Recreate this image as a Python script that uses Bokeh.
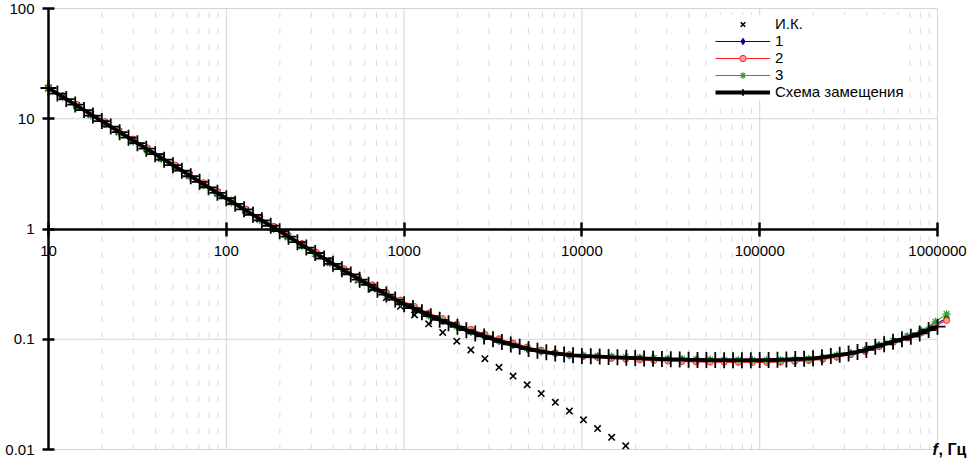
import math
from bokeh.plotting import figure
from bokeh.models import FixedTicker, Legend, LegendItem, Label, LogAxis
from bokeh.embed import file_html
from bokeh.resources import INLINE

# ---------------- data ----------------
X_TICKS = [10, 100, 1000, 10000, 100000, 1000000]
X_LABELS = ["10", "100", "1000", "10000", "100000", "1000000"]
Y_TICKS = [0.01, 0.1, 1, 10, 100]
Y_LABELS = ["0.01", "0.1", "1", "10", "100"]

LABEL_IK = "И.К."
LABEL_1 = "1"
LABEL_2 = "2"
LABEL_3 = "3"
LABEL_MODEL = "Схема замещения"
X_TITLE_F = "f"
X_TITLE_UNIT = ", Гц"

# И.К. (ideal capacitor)
F_IK = [10, 12, 14.4, 17.28, 20.74, 24.88, 29.86, 35.83, 43.0, 51.6, 61.92, 74.3,
        89.16, 107.0, 128.4, 154.1, 184.9, 221.9, 266.2, 319.5, 383.4, 460.1, 552.1,
        662.5, 795.0, 954.0, 1145, 1374, 1649, 1978, 2374, 2849, 3418, 4102, 4922,
        5907, 7088, 8506, 10207, 12248, 14698, 17637]
Z_IK = [19.0, 15.83, 13.19, 11.0, 9.16, 7.64, 6.36, 5.30, 4.42, 3.68, 3.07, 2.56,
        2.13, 1.78, 1.48, 1.233, 1.028, 0.856, 0.714, 0.595, 0.496, 0.413, 0.344,
        0.287, 0.239, 0.199, 0.166, 0.138, 0.1153, 0.096, 0.080, 0.0667, 0.0556,
        0.0463, 0.0386, 0.0322, 0.0268, 0.0223, 0.0186, 0.0155, 0.0129, 0.0108]

# measured series 1, 2, 3
F_MEAS = [10, 12, 14.4, 17.28, 20.74, 24.88, 29.86, 35.83, 43.0, 51.6, 61.92, 74.3,
          89.16, 107.0, 128.4, 154.1, 184.9, 221.9, 266.2, 319.5, 383.4, 460.1, 552.1,
          662.5, 795.0, 954.0, 1145, 1374, 1649, 1978, 2374, 2849, 3418, 4102, 4922,
          5907, 7088, 8506, 10207, 12248, 14698, 17637, 21165, 25398, 30477, 36573,
          43888, 52665, 63198, 75838, 91006, 109207, 131048, 157258, 188709, 226451,
          271741, 326090, 391308, 469569, 563483, 676180, 811416, 973699, 1125000]
Z_1 = [19.1, 15.9, 13.2, 11.0, 9.2, 7.62, 6.38, 5.30, 4.41, 3.69, 3.07, 2.55,
       2.13, 1.78, 1.48, 1.235, 1.03, 0.861, 0.719, 0.601, 0.503, 0.423, 0.356,
       0.302, 0.257, 0.219, 0.191, 0.167, 0.148, 0.132, 0.118, 0.107, 0.097,
       0.0895, 0.0825, 0.0778, 0.0742, 0.0718, 0.0704, 0.0693, 0.0683, 0.0674,
       0.0665, 0.0657, 0.0650, 0.0644, 0.0638, 0.0634, 0.0631, 0.0628, 0.0627,
       0.0627, 0.0630, 0.0637, 0.0648, 0.0668, 0.0700, 0.0740, 0.0792, 0.0872,
       0.0955, 0.1048, 0.1170, 0.1370, 0.155]
Z_2 = [19.3, 16.1, 13.5, 11.3, 9.40, 7.85, 6.55, 5.46, 4.55, 3.80, 3.16, 2.63,
       2.19, 1.83, 1.52, 1.268, 1.058, 0.885, 0.738, 0.618, 0.517, 0.436, 0.367,
       0.312, 0.266, 0.227, 0.198, 0.173, 0.154, 0.137, 0.123, 0.111, 0.101,
       0.0925, 0.0852, 0.0798, 0.0755, 0.0722, 0.0702, 0.0685, 0.0672, 0.0660,
       0.0650, 0.0641, 0.0634, 0.0628, 0.0623, 0.0620, 0.0618, 0.0617, 0.0617,
       0.0618, 0.0622, 0.0629, 0.0640, 0.0658, 0.0688, 0.0725, 0.0775, 0.0855,
       0.0935, 0.1025, 0.1140, 0.1330, 0.148]
Z_3 = [18.8, 15.6, 12.9, 10.7, 8.95, 7.45, 6.20, 5.16, 4.30, 3.58, 2.99, 2.49,
       2.07, 1.73, 1.44, 1.200, 1.001, 0.838, 0.699, 0.585, 0.490, 0.413, 0.348,
       0.296, 0.252, 0.215, 0.188, 0.164, 0.146, 0.130, 0.117, 0.106, 0.097,
       0.0893, 0.0828, 0.0782, 0.0748, 0.0724, 0.0712, 0.0704, 0.0697, 0.0690,
       0.0683, 0.0676, 0.0670, 0.0664, 0.0660, 0.0656, 0.0653, 0.0650, 0.0648,
       0.0647, 0.0649, 0.0655, 0.0665, 0.0684, 0.0715, 0.0752, 0.0803, 0.0885,
       0.0968, 0.1065, 0.1195, 0.1440, 0.169]

# equivalent circuit model (Схема замещения)
F_MODEL = [10, 11.22, 12.59, 14.13, 15.85, 17.78, 19.95, 22.39, 25.12, 28.18,
           31.62, 35.48, 39.81, 44.67, 50.12, 56.23, 63.10, 70.79, 79.43, 89.13,
           100, 112.2, 125.9, 141.3, 158.5, 177.8, 199.5, 223.9, 251.2, 281.8,
           316.2, 354.8, 398.1, 446.7, 501.2, 562.3, 631.0, 707.9, 794.3, 891.3,
           1000, 1122, 1259, 1413, 1585, 1778, 1995, 2239, 2512, 2818,
           3162, 3548, 3981, 4467, 5012, 5623, 6310, 7079, 7943, 8913,
           10000, 11220, 12590, 14130, 15850, 17780, 19950, 22390, 25120, 28180,
           31620, 35480, 39810, 44670, 50120, 56230, 63100, 70790, 79430, 89130,
           100000, 112200, 125900, 141300, 158500, 177800, 199500, 223900, 251200, 281800,
           316200, 354800, 398100, 446700, 501200, 562300, 631000, 707900, 794300, 891300,
           1000000]
Z_MODEL = [19.0, 16.93, 15.09, 13.45, 11.99, 10.68, 9.52, 8.49, 7.56, 6.74,
           6.01, 5.35, 4.77, 4.25, 3.79, 3.38, 3.01, 2.68, 2.39, 2.13,
           1.90, 1.693, 1.509, 1.345, 1.199, 1.070, 0.955, 0.852, 0.759, 0.678,
           0.606, 0.540, 0.483, 0.432, 0.387, 0.347, 0.312, 0.281, 0.254, 0.229,
           0.208, 0.1917, 0.1757, 0.1618, 0.1499, 0.1397, 0.1296, 0.1209, 0.1130, 0.1061,
           0.1001, 0.0946, 0.0897, 0.0853, 0.0814, 0.0786, 0.0762, 0.0744, 0.0728, 0.0715,
           0.0706, 0.0701, 0.0697, 0.0689, 0.0686, 0.0679, 0.0676, 0.0670, 0.0665, 0.0662,
           0.0658, 0.0656, 0.0652, 0.0650, 0.0648, 0.0647, 0.0646, 0.0646, 0.0646, 0.0646,
           0.0647, 0.0649, 0.0652, 0.0656, 0.0661, 0.0666, 0.0672, 0.0686, 0.0705, 0.0722,
           0.0742, 0.0768, 0.0800, 0.0856, 0.0900, 0.0950, 0.1000, 0.1055, 0.1130, 0.1210,
           0.1300]

# ---------------- figure ----------------
FONT = "Liberation Sans"
W, H = 973, 460
# screen placement of the data box (x: 10 -> 48px, 1e6 -> 937px; y: 100 -> 8px, 0.01 -> 449px)
XL, XR, YT, YB = 48.0, 937.0, 8.0, 449.0
dec_x = (XR - XL) / (math.log10(X_TICKS[-1]) - math.log10(X_TICKS[0]))
dec_y = (YB - YT) / (math.log10(Y_TICKS[-1]) - math.log10(Y_TICKS[0]))
x_start = 10 ** (math.log10(X_TICKS[0]) - XL / dec_x)
x_end = 10 ** (math.log10(X_TICKS[-1]) + (W - XR) / dec_x)
y_end = 10 ** (math.log10(Y_TICKS[-1]) + YT / dec_y)
y_start = 10 ** (math.log10(Y_TICKS[0]) - (H - YB) / dec_y)

p = figure(width=W, height=H, x_axis_type="log", y_axis_type="log",
           x_axis_location=None, y_axis_location=None,
           x_range=(x_start, x_end), y_range=(y_start, y_end),
           output_backend="svg", toolbar_location=None,
           min_border_left=0, min_border_right=0, min_border_top=0, min_border_bottom=0)
p.outline_line_color = None
p.background_fill_color = "white"
p.grid.visible = False

# grid lines restricted to the data box
x_minor = [m * t for t in X_TICKS[:-1] for m in range(2, 10)]
GRID = "#d4d4d4"
p.segment(x0=x_minor, x1=x_minor, y0=[Y_TICKS[0]] * len(x_minor), y1=[Y_TICKS[-1]] * len(x_minor),
          line_color="#d6d6d6", line_width=1, line_dash="5 11")
p.segment(x0=X_TICKS, x1=X_TICKS, y0=[Y_TICKS[0]] * len(X_TICKS), y1=[Y_TICKS[-1]] * len(X_TICKS),
          line_color=GRID, line_width=1)
p.segment(x0=[X_TICKS[0]] * len(Y_TICKS), x1=[X_TICKS[-1]] * len(Y_TICKS), y0=Y_TICKS, y1=Y_TICKS,
          line_color=GRID, line_width=1)

# ---------------- glyphs ----------------
r_ik = p.scatter(F_IK, Z_IK, marker="x", size=9, line_color="black", line_width=1.6)

C1, C2, C3 = "#0000a0", "#ff2020", "#2f9f2f"
l1 = p.line(F_MEAS, Z_1, line_color=C1, line_width=1.2)
s1 = p.scatter(F_MEAS, Z_1, marker="diamond", size=8, line_color=C1, fill_color=C1)
l2 = p.line(F_MEAS, Z_2, line_color=C2, line_width=1.2)
s2 = p.scatter(F_MEAS, Z_2, marker="circle", size=6, line_color=C2, fill_color="#ff9c9c")
l3 = p.line(F_MEAS, Z_3, line_color=C3, line_width=1.2)
s3 = p.scatter(F_MEAS, Z_3, marker="asterisk", size=8, line_color=C3, line_width=1.2)

lm = p.line(F_MODEL, Z_MODEL, line_color="black", line_width=3.8)
sm = p.scatter(F_MODEL, Z_MODEL, marker="cross", size=16,
               line_color="black", line_width=1.8)

# ---------------- axes crossing at (10, 1) ----------------
xa = LogAxis(fixed_location=1, bounds=(X_TICKS[0], X_TICKS[-1]),
             ticker=FixedTicker(ticks=X_TICKS, minor_ticks=[]),
             major_label_overrides={t: s for t, s in zip(X_TICKS, X_LABELS)})
ya = LogAxis(fixed_location=10, bounds=(Y_TICKS[0], Y_TICKS[-1]),
             ticker=FixedTicker(ticks=Y_TICKS, minor_ticks=[]),
             major_label_overrides={t: s for t, s in zip(Y_TICKS, Y_LABELS)})
for ax in (xa, ya):
    ax.axis_line_width = 2.5
    ax.axis_line_color = "black"
    ax.major_tick_line_width = 2.5
    ax.major_tick_line_color = "black"
    ax.minor_tick_line_color = None
    ax.major_label_text_font = FONT
    ax.major_label_text_font_size = "15px"
    ax.major_label_text_color = "black"
xa.major_tick_in = 7
xa.major_tick_out = 7
xa.major_label_standoff = 10
ya.major_tick_in = 6
ya.major_tick_out = 6
ya.major_label_standoff = 8
p.add_layout(xa, "below")
p.add_layout(ya, "left")

# ---------------- legend ----------------
legend = Legend(items=[
    LegendItem(label=LABEL_IK, renderers=[r_ik]),
    LegendItem(label=LABEL_1, renderers=[l1, s1]),
    LegendItem(label=LABEL_2, renderers=[l2, s2]),
    LegendItem(label=LABEL_3, renderers=[l3, s3]),
    LegendItem(label=LABEL_MODEL, renderers=[lm, sm]),
], location=(715, 360))
legend.glyph_width = 55
legend.glyph_height = 16
legend.label_height = 16
legend.label_standoff = 5
legend.spacing = 0
legend.padding = 2
legend.margin = 0
legend.border_line_color = None
legend.background_fill_color = "white"
legend.background_fill_alpha = 1
legend.label_text_font = FONT
legend.label_text_font_size = "15px"
legend.label_text_line_height = 1.0
legend.label_text_color = "black"
p.add_layout(legend)

# ---------------- axis title ----------------
p.add_layout(Label(x=X_TICKS[-1], y=Y_TICKS[0], x_offset=-5, text=X_TITLE_F,
                   text_font=FONT, text_font_size="16px", text_font_style="bold italic",
                   text_baseline="middle", text_align="left", text_color="black"))
p.add_layout(Label(x=X_TICKS[-1], y=Y_TICKS[0], x_offset=1, text=X_TITLE_UNIT,
                   text_font=FONT, text_font_size="16px", text_font_style="bold",
                   text_baseline="middle", text_align="left", text_color="black"))

open("out.html", "w").write(file_html(p, INLINE))
